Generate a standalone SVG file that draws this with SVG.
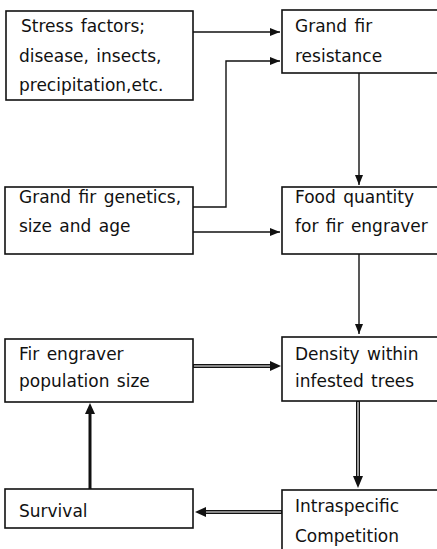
<svg xmlns="http://www.w3.org/2000/svg" width="437" height="549" viewBox="0 0 437 549">
  <style>
    .box { fill: #fff; stroke: #111; stroke-width: 1.6; }
    .lbl { font-family: "DejaVu Sans", "Liberation Sans", sans-serif; font-size: 17px; fill: #111; word-spacing: 2px; }
    .thin { fill: none; stroke: #111; stroke-width: 1.4; }
    .dblo { fill: none; stroke: #111; stroke-width: 4; }
    .dbli { fill: none; stroke: #fff; stroke-width: 1.2; }
    .thick { fill: none; stroke: #111; stroke-width: 3; }
    .head { fill: #111; }
  </style>
  <defs>
    <marker id="arr" viewBox="0 0 10 8" refX="10" refY="4" markerWidth="10" markerHeight="8" markerUnits="userSpaceOnUse" orient="auto">
      <path d="M0,0 L10,4 L0,8 Z" fill="#111"/>
    </marker>
  </defs>
  <rect width="437" height="549" fill="#fff"/>

  <g id="stress">
    <rect class="box" x="6" y="11" width="187" height="89"/>
    <text class="lbl" x="21" y="32">Stress factors;</text>
    <text class="lbl" x="19" y="62">disease, insects,</text>
    <text class="lbl" x="19" y="91">precipitation,etc.</text>
  </g>
  <g id="resistance">
    <rect class="box" x="282" y="10" width="160" height="63"/>
    <text class="lbl" x="295" y="32">Grand fir</text>
    <text class="lbl" x="295" y="62">resistance</text>
  </g>
  <g id="genetics">
    <rect class="box" x="5" y="187" width="188" height="67"/>
    <text class="lbl" x="19" y="203">Grand fir genetics,</text>
    <text class="lbl" x="19" y="232">size and age</text>
  </g>
  <g id="food">
    <rect class="box" x="282" y="187" width="160" height="67"/>
    <text class="lbl" x="295" y="203">Food quantity</text>
    <text class="lbl" x="295" y="232">for fir engraver</text>
  </g>
  <g id="population">
    <rect class="box" x="5" y="339" width="188" height="63"/>
    <text class="lbl" x="19" y="360">Fir engraver</text>
    <text class="lbl" x="19" y="387">population size</text>
  </g>
  <g id="density">
    <rect class="box" x="282" y="337" width="160" height="64"/>
    <text class="lbl" x="295" y="360">Density within</text>
    <text class="lbl" x="295" y="387">infested trees</text>
  </g>
  <g id="survival">
    <rect class="box" x="5" y="489" width="188" height="39"/>
    <text class="lbl" x="19" y="517">Survival</text>
  </g>
  <g id="competition">
    <rect class="box" x="282" y="490" width="160" height="70"/>
    <text class="lbl" x="295" y="512">Intraspecific</text>
    <text class="lbl" x="295" y="542">Competition</text>
  </g>

  <g id="connectors">
    <path class="thin" d="M193,32 H280" marker-end="url(#arr)"/>
    <path class="thin" d="M193,207 H226 V61 H280" marker-end="url(#arr)"/>
    <path class="thin" d="M193,232 H280" marker-end="url(#arr)"/>
    <path class="thin" d="M359,73 V185" marker-end="url(#arr)"/>
    <path class="thin" d="M359,254 V334" marker-end="url(#arr)"/>
    <!-- hollow double-line flows -->
    <path class="dblo" d="M193,366 H272"/>
    <path class="dbli" d="M194,366 H272"/>
    <polygon class="head" points="270,361 281,366 270,371"/>
    <path class="dblo" d="M358,401 V478"/>
    <path class="dbli" d="M358,402 V478"/>
    <polygon class="head" points="353,476 358,488 363,476"/>
    <path class="dblo" d="M282,512 H204"/>
    <path class="dbli" d="M281,512 H204"/>
    <polygon class="head" points="206,507 195,512 206,517"/>
    <!-- survival feeds back to population -->
    <path class="thick" d="M90,489 V412"/>
    <polygon class="head" points="85,414 90,403 95,414"/>
  </g>
</svg>
